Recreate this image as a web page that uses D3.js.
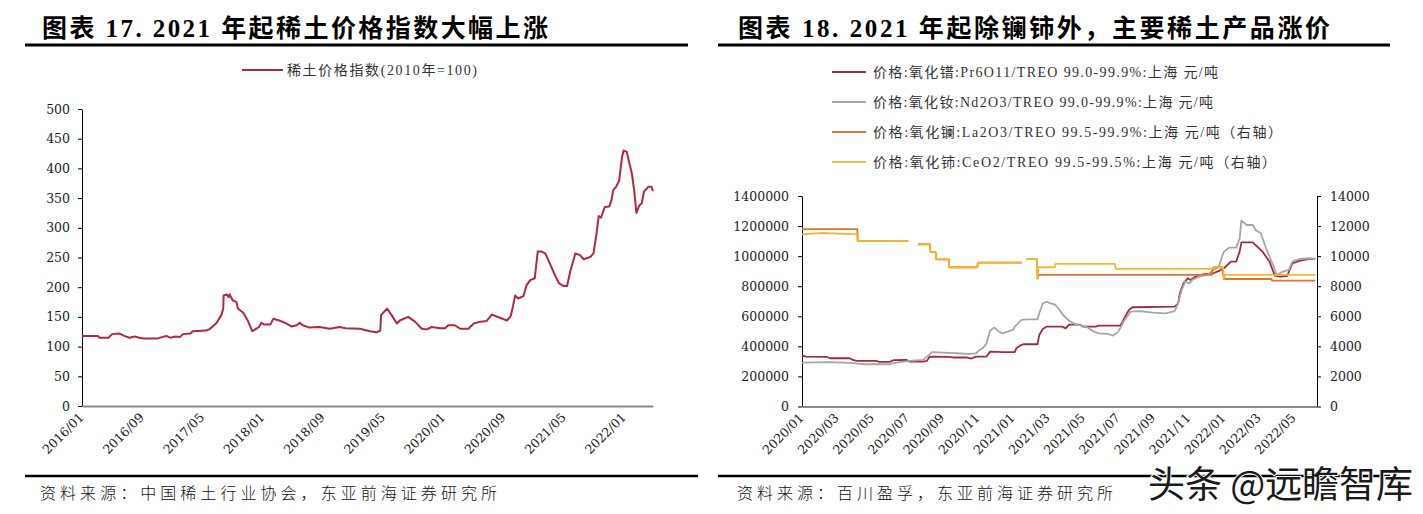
<!DOCTYPE html>
<html><head><meta charset="utf-8">
<script src="https://cdn.jsdelivr.net/npm/d3@7/dist/d3.min.js"></script>
<style>
html,body{margin:0;padding:0;background:#fff;}
svg{display:block;}
</style>
</head><body>
<svg id="c" width="1423" height="514"></svg>
<script>
// ---------- texts ----------
const leftTitle = "图表 17. 2021 年起稀土价格指数大幅上涨";
const rightTitle = "图表 18. 2021 年起除镧铈外，主要稀土产品涨价";
const leftSource = "资料来源：中国稀土行业协会，东亚前海证券研究所";
const rightSource = "资料来源：百川盈孚，东亚前海证券研究所";
const watermark = "头条 @远瞻智库";
const leftLegend = "稀土价格指数(2010年=100)";
const rightLegend = [
  "价格:氧化镨:Pr6O11/TREO 99.0-99.9%:上海 元/吨",
  "价格:氧化钕:Nd2O3/TREO 99.0-99.9%:上海 元/吨",
  "价格:氧化镧:La2O3/TREO 99.5-99.9%:上海 元/吨（右轴）",
  "价格:氧化铈:CeO2/TREO 99.5-99.5%:上海 元/吨（右轴）"
];

// ---------- tick labels ----------
const leftXTicks = ["2016/01","2016/09","2017/05","2018/01","2018/09","2019/05","2020/01","2020/09","2021/05","2022/01"];
const leftYTicks = [0,50,100,150,200,250,300,350,400,450,500];
const rightXTicks = ["2020/01","2020/03","2020/05","2020/07","2020/09","2020/11","2021/01","2021/03","2021/05","2021/07","2021/09","2021/11","2022/01","2022/03","2022/05"];
const rightYLeftTicks = [0,200000,400000,600000,800000,1000000,1200000,1400000];
const rightYRightTicks = [0,2000,4000,6000,8000,10000,12000,14000];

// ---------- data: [months since first tick, value] ----------
const indexSeries = [
 [0,118],[2.1,118],[2.3,115],[3.5,115],[4.0,121],[5.0,122],[5.6,118],[6.3,115],[7.0,117],[7.6,115],
 [8.2,113.5],[10.0,113.5],[10.6,116],[11.2,118],[11.7,115],[12.4,117],[13.0,116],[13.4,121],[14.4,122],
 [14.7,126],[16.5,127],[17.0,130],[17.8,139],[18.5,153],[18.75,164],[18.8,186],[19.2,188],[19.5,183],
 [19.6,188],[20.0,178],[20.5,175],[20.7,164],[21.4,157],[22.0,144],[22.6,126],[23.1,130],[23.5,133],
 [23.8,140],[24.2,137],[25.0,137],[25.4,147],[26.2,144],[27.1,139],[27.8,134],[28.5,136],[28.9,140],
 [29.3,136],[30.2,132],[31.5,133],[32.9,130],[34.2,133],[35.0,131],[36.9,130],[38.2,126],[39.1,124],
 [39.6,127],[39.7,153],[40.5,164],[41.1,153],[41.8,139],[42.2,144],[43.3,150],[44.2,142],[45.1,130],
 [45.8,129],[46.4,133],[47.5,131],[48.2,131],[48.6,136],[49.5,136],[50.2,130],[51.3,130],[52.0,139],
 [52.9,142],[53.7,143],[54.4,154],[55.0,151],[56.4,144],[56.9,151],[57.2,167],[57.5,186],[57.9,181],
 [58.6,185],[59.0,203],[59.5,212],[60.1,215],[60.5,260],[61.0,260],[61.5,257],[62.1,240],[62.8,220],
 [63.3,207],[63.9,202],[64.4,202],[64.8,226],[65.5,257],[66.1,254],[66.6,247],[67.5,251],[67.9,257],
 [68.3,290],[68.6,320],[68.9,317],[69.4,335],[70.0,336],[70.3,347],[70.5,363],[70.9,369],[71.3,379],
 [71.7,420],[71.9,430],[72.3,428],[73.0,391],[73.3,363],[73.6,325],[74.0,338],[74.3,341],[74.6,361],
 [75.2,369],[75.6,369],[75.8,362]
];

const prSeries = [
 [0,339000],[0.25,332000],[1.4,330000],[1.6,321000],[2.7,321000],[2.9,310000],[3.1,303000],[4.2,303000],
 [4.4,297000],[5.0,297000],[5.2,308000],[5.95,310000],[6.1,299000],[6.9,299000],[7.1,303000],[7.27,332000],
 [8.4,330000],[8.6,326000],[9.35,326000],[9.64,319000],[9.9,332000],[10.5,332000],[10.7,365000],[11.2,363000],
 [11.4,361000],[12.1,361000],[12.2,388000],[12.4,405000],[12.6,414000],[13.4,414000],[13.5,476000],[13.7,515000],
 [13.9,531000],[14.8,531000],[15.0,520000],[15.2,545000],[15.8,545000],[16.0,531000],[16.7,531000],[16.9,538000],
 [18.1,538000],[18.2,553000],[18.35,591000],[18.6,642000],[18.8,660000],[21.2,664000],[21.4,686000],[21.5,753000],
 [21.7,819000],[21.95,853000],[22.1,842000],[22.4,864000],[22.8,879000],[23.4,886000],[23.75,904000],[24.0,919000],
 [24.2,941000],[24.4,963000],[24.7,963000],[24.9,1030000],[25.0,1092000],[25.65,1092000],[25.8,1074000],[26.2,1030000],
 [26.6,963000],[26.9,870000],[27.2,864000],[27.6,868000],[27.9,952000],[28.3,968000],[28.8,981000],[29.2,981000]
];

const ndSeries = [
 [0,292000],[1.5,295000],[2.7,290000],[3.2,285000],[3.6,281000],[5.0,281000],[5.2,288000],[5.76,299000],
 [6.1,303000],[6.9,310000],[7.1,332000],[7.4,362000],[8.0,358000],[8.8,354000],[9.5,350000],[9.9,354000],
 [10.1,376000],[10.3,390000],[10.5,420000],[10.7,505000],[10.95,525000],[11.2,498000],[11.4,487000],[11.7,498000],
 [12.0,509000],[12.1,531000],[12.3,555000],[12.5,576000],[12.8,580000],[13.4,580000],[13.5,620000],[13.7,685000],
 [13.9,697000],[14.1,688000],[14.4,678000],[14.6,650000],[14.85,609000],[15.0,592000],[15.2,570000],[15.5,550000],
 [15.8,542000],[16.2,528000],[16.6,498000],[16.9,487000],[17.4,483000],[17.7,472000],[18.0,498000],[18.3,565000],
 [18.5,598000],[18.7,631000],[19.2,635000],[19.96,624000],[20.7,620000],[21.2,635000],[21.4,686000],[21.6,775000],
 [21.8,830000],[22.05,819000],[22.2,842000],[22.6,864000],[23.1,879000],[23.4,908000],[23.7,926000],[23.85,979000],
 [24.0,1030000],[24.3,1056000],[24.7,1056000],[24.9,1118000],[25.0,1236000],[25.3,1207000],[25.65,1207000],[25.8,1174000],
 [26.1,1152000],[26.4,1052000],[26.8,941000],[27.0,875000],[27.35,897000],[27.7,908000],[27.9,963000],[28.3,981000],
 [28.9,986000],[29.2,981000]
];

const laSeries = [
 [0,11800],[3.15,11800],[3.17,11000],[6.05,11000],[6.3,null],[6.6,10790],[7.28,10790],[7.3,10300],[7.6,10250],
 [7.65,9790],[8.36,9790],[8.38,9260],[9.98,9260],[10.0,9570],[12.5,9570],[12.6,null],[12.75,9810],[13.35,9810],
 [13.4,8500],[13.45,8750],[23.3,8750],[23.4,9260],[23.9,9260],[24.0,8480],[26.7,8480],[26.75,8370],[29.2,8370]
];

const ceSeries = [
 [0,11450],[0.5,11500],[1.2,11540],[3.15,11450],[3.17,11000],[6.05,11000],[6.3,null],[6.6,10790],[7.28,10790],
 [7.3,10300],[7.6,10250],[7.65,9790],[8.36,9790],[8.38,9260],[9.98,9260],[10.0,9570],[12.5,9570],[12.6,null],
 [12.75,9810],[13.35,9810],[13.4,8500],[13.45,9260],[14.4,9260],[14.42,9480],[17.8,9480],[17.85,9150],[23.4,9150],
 [23.42,9260],[23.95,9260],[24.0,8500],[24.05,8750],[29.2,8750]
];

// ---------- helpers ----------
function monthsFrom(label, base) {
  const [y, m] = label.split("/").map(Number);
  const [by, bm] = base.split("/").map(Number);
  return (y - by) * 12 + (m - bm);
}

const svg = d3.select("#c");
const tickFont = "'DejaVu Serif','Noto Sans CJK SC',serif";
const legendFont = "'Liberation Serif','Noto Sans CJK SC',serif";
const cjkFont = "'Noto Sans CJK SC',sans-serif";
const titleFont = "'Liberation Serif','Noto Sans CJK SC',serif";

// ---------- titles, rules, sources ----------
function header(x, title, len, lineX0, lineX1) {
  svg.append("text").attr("x", x).attr("y", 37).text(title)
    .attr("font-family", titleFont).attr("font-weight", "bold").attr("font-size", 25)
    .attr("fill", "#000").attr("textLength", len).attr("lengthAdjust", "spacing");
  svg.append("line").attr("x1", lineX0).attr("x2", lineX1).attr("y1", 45).attr("y2", 45)
    .attr("stroke", "#000").attr("stroke-width", 3);
}
header(42, leftTitle, 506, 25, 688);
header(738, rightTitle, 592, 718, 1390);

function footer(x, txt, len, lineX0, lineX1) {
  svg.append("line").attr("x1", lineX0).attr("x2", lineX1).attr("y1", 476).attr("y2", 476)
    .attr("stroke", "#000").attr("stroke-width", 2.5);
  svg.append("text").attr("x", x).attr("y", 499).text(txt)
    .attr("font-family", cjkFont).attr("font-weight", 300).attr("font-size", 16)
    .attr("fill", "#111").attr("textLength", len).attr("lengthAdjust", "spacing");
}
footer(40, leftSource, 457, 25, 698);
footer(737, rightSource, 376, 718, 1390);

// ---------- left chart ----------
const xL = d3.scaleLinear().domain([0, 75.8]).range([82, 653]);
const yL = d3.scaleLinear().domain([0, 500]).range([406, 109]);

function styleYAxis(g) {
  g.select(".domain").attr("stroke", "#000").attr("stroke-width", 1);
  g.selectAll(".tick line").attr("stroke", "#000");
  g.selectAll(".tick text").attr("font-family", tickFont).attr("font-size", 12.5).attr("fill", "#222");
}
function styleXAxis(g) {
  g.select(".domain").attr("stroke", "#8a8a8a").attr("stroke-width", 2);
  g.selectAll(".tick text")
    .attr("font-family", tickFont).attr("font-size", 12.5).attr("fill", "#222")
    .attr("y", null).attr("dy", "0.35em").attr("text-anchor", "end")
    .attr("transform", "translate(-1,9) rotate(-45)");
}

svg.append("g").attr("transform", "translate(82,0)")
  .call(d3.axisLeft(yL).tickValues(leftYTicks).tickSize(4).tickPadding(8).tickSizeOuter(0))
  .call(styleYAxis);

svg.append("g").attr("transform", "translate(0,406)")
  .call(d3.axisBottom(xL).tickValues(leftXTicks.map(l => monthsFrom(l, leftXTicks[0])))
    .tickFormat((d, i) => leftXTicks[i]).tickSize(0).tickSizeOuter(0))
  .call(styleXAxis);

const lineL = d3.line().x(d => xL(d[0])).y(d => yL(d[1]));
svg.append("path").datum(indexSeries).attr("d", lineL)
  .attr("fill", "none").attr("stroke", "#B3283E").attr("stroke-width", 2).attr("stroke-linejoin", "round");

// left legend
svg.append("line").attr("x1", 242).attr("x2", 283).attr("y1", 70).attr("y2", 70)
  .attr("stroke", "#9E2B3E").attr("stroke-width", 2);
svg.append("text").attr("x", 287).attr("y", 75).text(leftLegend)
  .attr("font-family", legendFont).attr("font-size", 14).attr("fill", "#333")
  .attr("textLength", 190).attr("lengthAdjust", "spacing");

// ---------- right chart ----------
const xR = d3.scaleLinear().domain([0, 29.3]).range([802, 1317]);
const yRL = d3.scaleLinear().domain([0, 1400000]).range([406.5, 196]);
const yRR = d3.scaleLinear().domain([0, 14000]).range([406.5, 196]);

svg.append("g").attr("transform", "translate(802,0)")
  .call(d3.axisLeft(yRL).tickValues(rightYLeftTicks).tickFormat(d3.format("d")).tickSize(4).tickPadding(9).tickSizeOuter(0))
  .call(styleYAxis);
svg.append("g").attr("transform", "translate(1317,0)")
  .call(d3.axisRight(yRR).tickValues(rightYRightTicks).tickFormat(d3.format("d")).tickSize(4).tickPadding(9).tickSizeOuter(0))
  .call(styleYAxis);
svg.append("g").attr("transform", "translate(0,406.5)")
  .call(d3.axisBottom(xR).tickValues(rightXTicks.map(l => monthsFrom(l, rightXTicks[0])))
    .tickFormat((d, i) => rightXTicks[i]).tickSize(0).tickSizeOuter(0))
  .call(styleXAxis);

const seriesR = [
  {data: prSeries, y: yRL, color: "#A8293C"},
  {data: ndSeries, y: yRL, color: "#A6A6A6"},
  {data: laSeries, y: yRR, color: "#E8702C"},
  {data: ceSeries, y: yRR, color: "#F3B72E"}
];
seriesR.forEach(s => {
  const ln = d3.line().defined(d => d[1] != null).x(d => xR(d[0])).y(d => s.y(d[1]));
  svg.append("path").datum(s.data).attr("d", ln)
    .attr("fill", "none").attr("stroke", s.color).attr("stroke-width", 1.8).attr("stroke-linejoin", "round");
});

// right legend
const legendColors = ["#9E2B3E", "#A6A6A6", "#D9773A", "#EEC14A"];
const legendLens = [345, 340, 409, 403];
rightLegend.forEach((t, i) => {
  const y = 72 + i * 30;
  svg.append("line").attr("x1", 832).attr("x2", 866).attr("y1", y).attr("y2", y)
    .attr("stroke", legendColors[i]).attr("stroke-width", 2);
  svg.append("text").attr("x", 873).attr("y", y + 5).text(t)
    .attr("font-family", legendFont).attr("font-size", 14).attr("fill", "#333")
    .attr("textLength", legendLens[i]).attr("lengthAdjust", "spacing");
});

// watermark
svg.append("text").attr("x", 1148).attr("y", 498).text(watermark)
  .attr("font-family", cjkFont).attr("font-size", 37).attr("fill", "#1a1a1a")
  .attr("stroke", "#fff").attr("stroke-width", 2).attr("paint-order", "stroke")
  .attr("textLength", 265).attr("lengthAdjust", "spacing");
</script>
</body></html>
